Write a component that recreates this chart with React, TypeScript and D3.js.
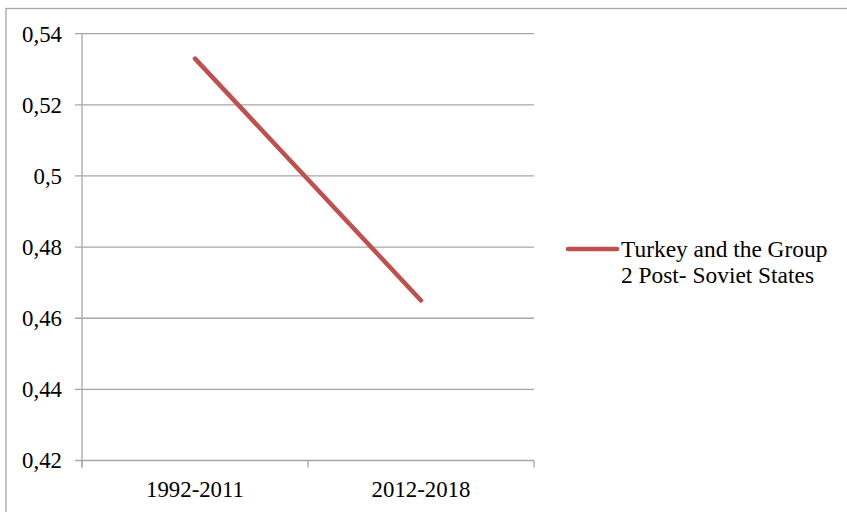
import React from "react";
import * as d3 from "d3";

const categories = ["1992-2011", "2012-2018"];
const seriesName = ["Turkey and the Group", "2 Post- Soviet States"];
const values = [0.533, 0.465];
const yTicks = [0.42, 0.44, 0.46, 0.48, 0.5, 0.52, 0.54];

const W = 847;
const H = 512;
const left = 82;
const right = 534;
const top = 33.7;
const bottom = 460.5;
const grid = "#a6a6a6";
const red = "#c0504d";
const font = "Liberation Serif, Tinos, serif";

export default function App() {
  const x = d3.scaleBand<string>().domain(categories).range([left, right]);
  const y = d3.scaleLinear().domain([0.42, 0.54]).range([bottom, top]);
  const fmt = (v: number) => d3.format(".2~f")(v).replace(".", ",");
  const line = d3
    .line<number>()
    .x((_, i) => (x(categories[i]) as number) + x.bandwidth() / 2)
    .y((d) => y(d));
  const xTickPos = [left, ...categories.map((c) => (x(c) as number) + x.bandwidth())];
  const ts = { fontFamily: font } as React.CSSProperties;

  return (
    <svg
      width={W}
      height={H}
      style={{ position: "absolute", left: 0, top: 0, background: "#fff" }}
    >
      <rect x={6} y={8.5} width={W + 10} height={H + 10} fill="#fff" stroke="#a6a6a6" strokeWidth={1.3} />
      {yTicks.map((t) => (
        <g key={t}>
          <line x1={left - 7} x2={right} y1={y(t)} y2={y(t)} stroke={grid} strokeWidth={1.3} />
          <text
            x={62}
            y={y(t)}
            dy="0.35em"
            textAnchor="end"
            style={ts}
            fontSize={22.8}
            fill="#000"
          >
            {fmt(t)}
          </text>
        </g>
      ))}
      <line x1={left} x2={left} y1={top} y2={bottom + 7} stroke={grid} strokeWidth={1.3} />
      {xTickPos.map((p, i) => (
        <line key={i} x1={p} x2={p} y1={bottom} y2={bottom + 7} stroke={grid} strokeWidth={1.3} />
      ))}
      {categories.map((c) => (
        <text
          key={c}
          x={(x(c) as number) + x.bandwidth() / 2}
          y={497}
          textAnchor="middle"
          style={ts}
          fontSize={22.8}
          fill="#000"
        >
          {c}
        </text>
      ))}
      <path d={line(values) || ""} fill="none" stroke={red} strokeWidth={4.5} strokeLinecap="round" />
      <line x1={568} x2={617} y1={249} y2={249} stroke={red} strokeWidth={4.5} strokeLinecap="round" />
      {seriesName.map((s, i) => (
        <text key={i} x={621} y={256.5 + i * 26.5} style={ts} fontSize={23.4} fill="#000">
          {s}
        </text>
      ))}
    </svg>
  );
}
